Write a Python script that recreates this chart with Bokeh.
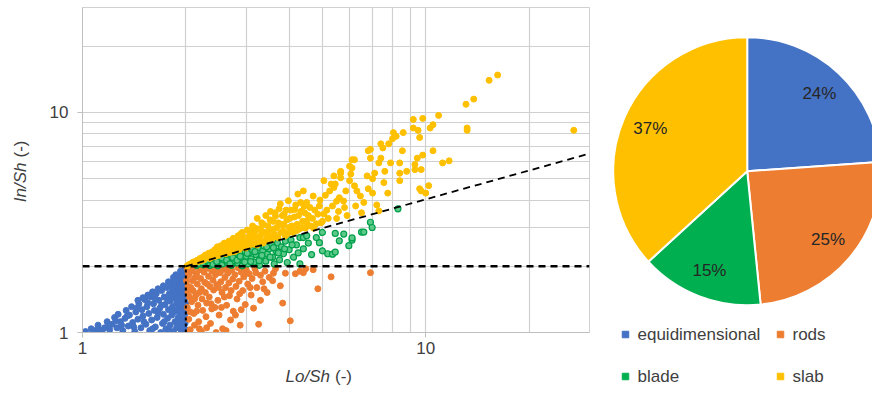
import math
from bokeh.plotting import figure
from bokeh.models import Range1d, FixedTicker, Span, ColumnDataSource
from bokeh.layouts import row, column
from bokeh.embed import file_html
from bokeh.resources import INLINE
from bokeh.core.properties import value

# ---------------- data ----------------
categories = ["equidimensional", "rods", "blade", "slab"]
colors = ["#4472C4", "#ED7D31", "#00B050", "#FFC000"]
pie_share = [23.9, 24.5, 14.8, 36.8]
pie_labels = ["24%", "25%", "15%", "37%"]

x_title = ["Lo/Sh", "(-)"]
y_title = ["In/Sh", "(-)"]
x_ticks = [1, 10]
x_tick_labels = ["1", "10"]
y_ticks = [1, 10]
y_tick_labels = ["1", "10"]
grid_values = [1, 2, 3, 4, 5, 6, 7, 8, 9, 10, 20, 30]
axis_range = [1, 30]

split_value = 2
boundary_lo = [2, 30]
boundary_in = [2, 6.5]

equi_pts = [(1.02,1.01),(1.06,1.04),(1.09,1.02),(1.11,1.08),(1.14,1.01),(1.16,1.05),(1.18,1.12),(1.2,1.03),
    (1.22,1.09),(1.24,1.17),(1.26,1.05),(1.27,1.21),(1.29,1.12),(1.31,1.02),(1.33,1.16),(1.34,1.26),(1.36,1.07),
    (1.37,1.2),(1.39,1.31),(1.4,1.11),(1.42,1.01),(1.43,1.24),(1.45,1.15),(1.46,1.35),(1.48,1.05),(1.49,1.27),
    (1.5,1.19),(1.52,1.41),(1.53,1.09),(1.54,1.31),(1.56,1.22),(1.57,1.02),(1.58,1.45),(1.59,1.14),(1.61,1.35),
    (1.62,1.26),(1.63,1.06),(1.64,1.5),(1.65,1.17),(1.67,1.4),(1.68,1.29),(1.69,1.0),(1.7,1.55),(1.71,1.1),
    (1.72,1.21),(1.73,1.45),(1.74,1.34),(1.75,1.04),(1.76,1.6),(1.77,1.16),(1.78,1.27),(1.79,1.5),(1.8,1.39),
    (1.8,1.08),(1.81,1.65),(1.82,1.2),(1.83,1.56),(1.83,1.31),(1.84,1.01),(1.85,1.44),(1.85,1.71),(1.86,1.12),
    (1.87,1.25),(1.87,1.61),(1.88,1.36),(1.88,1.05),(1.89,1.76),(1.89,1.49),(1.9,1.17),(1.9,1.67),(1.91,1.29),
    (1.91,1.4),(1.92,1.81),(1.92,1.09),(1.93,1.55),(1.93,1.22),(1.94,1.72),(1.94,1.33),(1.94,1.02),(1.95,1.86),
    (1.95,1.46),(1.95,1.14),(1.96,1.62),(1.96,1.26),(1.96,1.78),(1.97,1.38),(1.97,1.06),(1.97,1.9),(1.98,1.52),
    (1.98,1.19),(1.98,1.68),(1.98,1.31),(1.99,1.84),(1.99,1.43),(1.99,1.1),(1.99,1.95),(1.99,1.59),(2.0,1.24),
    (2.0,1.74),(2.0,1.35),(2.0,1.03),(2.0,1.89),(2.0,1.48),(2.0,1.15),(1.97,1.64),(1.93,1.9),(1.87,1.83),
    (1.84,1.78),(1.78,1.7),(1.72,1.63),(1.66,1.58),(1.6,1.53),(1.55,1.48),(1.5,1.44),(1.45,1.4),
    (1.12,1.03),(1.19,1.07),(1.25,1.13),(1.3,1.08),(1.35,1.19),(1.41,1.06),(1.44,1.29),(1.51,1.12),(1.55,1.36),
    (1.6,1.04),(1.63,1.42),(1.66,1.23),(1.7,1.33),(1.73,1.12),(1.77,1.41),(1.79,1.02),(1.82,1.48),(1.84,1.24),
    (1.86,1.66),(1.88,1.54),(1.9,1.09),(1.92,1.35),(1.93,1.62),(1.95,1.25),(1.96,1.7),(1.97,1.46),(1.98,1.82),
    (1.99,1.36),(2.0,1.6),(2.0,1.94)]

rods_pts = [(2.02,1.95),(2.04,1.82),(2.03,1.62),(2.05,1.45),(2.02,1.3),(2.04,1.15),(2.06,1.03),(2.08,1.9),
    (2.09,1.72),(2.1,1.55),(2.08,1.38),(2.11,1.22),(2.12,1.08),(2.14,1.98),(2.15,1.85),(2.16,1.66),(2.14,1.48),
    (2.17,1.33),(2.18,1.12),(2.2,1.93),(2.21,1.76),(2.22,1.58),(2.23,1.42),(2.24,1.26),(2.22,1.01),(2.26,1.88),
    (2.27,1.69),(2.28,1.52),(2.3,1.36),(2.29,1.18),(2.32,1.96),(2.33,1.8),(2.35,1.62),(2.34,1.45),(2.36,1.1),
    (2.38,1.91),(2.4,1.73),(2.41,1.56),(2.43,1.3),(2.44,1.83),(2.46,1.65),(2.47,1.97),(2.48,1.4),(2.5,1.2),
    (2.52,1.87),(2.53,1.7),(2.55,1.52),(2.56,1.04),(2.58,1.94),(2.6,1.78),(2.61,1.6),(2.63,1.33),(2.65,1.86),
    (2.67,1.68),(2.68,1.47),(2.7,1.14),(2.72,1.92),(2.74,1.75),(2.75,1.25),(2.78,1.83),(2.8,1.62),(2.82,1.42),
    (2.84,1.97),(2.86,1.71),(2.88,1.08),(2.9,1.88),(2.93,1.55),(2.95,1.79),(2.98,1.34),(3.0,1.93),(3.03,1.66),
    (3.06,1.85),(3.1,1.48),(3.12,1.76),(3.15,1.29),(3.18,1.95),(3.22,1.6),(3.26,1.09),(3.3,1.82),(3.35,1.7),
    (3.4,1.9),(3.45,1.52),(3.5,1.78),(3.58,1.72),(3.65,1.95),(3.77,1.63),(3.83,1.36),(3.9,1.86),(4.03,1.13),
    (4.17,1.85),(4.3,1.9),(4.4,1.87),(4.47,1.95),(4.7,1.93),(4.85,1.58),(5.3,1.79),(6.9,1.87),(2.05,1.0),
    (2.3,1.05),(2.45,1.0),(2.62,1.02),(2.15,1.25),(2.38,1.28),(2.01,1.72),(2.03,1.52),(2.03,1.88),(2.06,1.24),
    (2.07,1.6),(2.1,1.97),(2.12,1.42),(2.13,1.78),(2.19,1.52),(2.19,1.04),(2.25,1.97),(2.31,1.66),(2.37,1.35),
    (2.42,1.9),(2.49,1.6),(2.54,1.3),(2.59,1.45),(2.66,1.95),(2.71,1.55),(2.79,1.2),(2.87,1.5),(2.96,1.9),
    (3.08,1.6),(3.2,1.87),(3.38,1.58),(3.6,1.86),(3.3,1.4),(2.9,1.27)]

blade_pts = [(2.15,2.02),(2.2,2.05),(2.25,2.03),(2.28,2.08),(2.32,2.1),(2.35,2.02),(2.38,2.13),(2.42,2.06),
    (2.45,2.16),(2.48,2.01),(2.5,2.11),(2.53,2.19),(2.56,2.05),(2.58,2.14),(2.61,2.21),(2.64,2.08),(2.67,2.17),
    (2.7,2.27),(2.72,2.02),(2.75,2.12),(2.78,2.24),(2.8,2.3),(2.83,2.07),(2.86,2.18),(2.89,2.28),(2.92,2.01),
    (2.95,2.13),(2.98,2.33),(3.0,2.22),(3.03,2.05),(3.06,2.3),(3.1,2.16),(3.13,2.37),(3.16,2.09),(3.2,2.26),
    (3.24,2.42),(3.28,2.02),(3.31,2.18),(3.35,2.34),(3.38,2.47),(3.42,2.11),(3.46,2.27),(3.5,2.4),(3.55,2.52),
    (3.58,2.2),(3.62,2.05),(3.66,2.35),(3.7,2.55),(3.75,2.14),(3.8,2.45),(3.85,2.28),(3.9,2.6),(3.95,2.08),
    (4.0,2.38),(4.05,2.63),(4.12,2.2),(4.2,2.5),(4.3,2.05),(4.3,2.7),(4.4,2.4),(4.4,2.7),(4.5,2.75),(4.65,2.26),
    (4.9,2.56),(5.0,2.85),(5.0,2.35),(5.18,2.28),(5.35,2.27),(5.45,2.32),(5.45,2.82),(5.6,2.61),(5.77,2.8),
    (5.97,2.48),(6.1,2.63),(6.1,2.69),(6.5,2.86),(6.6,2.86),(6.9,3.17),(6.98,3.0),(8.3,3.65),
    (2.24,2.07),(2.4,2.04),(2.46,2.1),(2.55,2.18),(2.63,2.13),(2.69,2.05),(2.74,2.19),(2.82,2.13),(2.88,2.22),
    (2.97,2.09),(3.02,2.29),(3.09,2.1),(3.18,2.33),(3.27,2.12),(3.33,2.24),(3.44,2.45),(3.52,2.2),(3.6,2.43),
    (3.72,2.3),(3.88,2.4),(4.08,2.5),(4.25,2.3),(4.55,2.55),(4.8,2.7)]

slab_pts = [(2.02,2.01),(2.05,2.04),(2.08,2.06),(2.1,2.09),(2.13,2.1),(2.16,2.13),(2.18,2.1),(2.2,2.17),
    (2.22,2.12),(2.24,2.2),(2.26,2.14),(2.28,2.25),(2.31,2.2),(2.33,2.29),(2.35,2.17),(2.37,2.24),(2.39,2.33),
    (2.41,2.21),(2.43,2.38),(2.45,2.28),(2.47,2.45),(2.49,2.24),(2.51,2.35),(2.53,2.48),(2.55,2.3),(2.57,2.41),
    (2.59,2.55),(2.61,2.28),(2.63,2.47),(2.65,2.36),(2.67,2.6),(2.69,2.31),(2.71,2.52),(2.73,2.4),(2.75,2.68),
    (2.77,2.33),(2.8,2.58),(2.82,2.46),(2.84,2.75),(2.86,2.38),(2.88,2.64),(2.9,2.52),(2.92,2.85),(2.95,2.44),
    (2.97,2.7),(3.0,2.58),(3.02,2.92),(3.05,2.47),(3.08,2.78),(3.1,2.62),(3.13,3.05),(3.15,2.52),(3.18,2.88),
    (3.2,2.7),(3.23,3.3),(3.25,2.58),(3.28,2.96),(3.3,2.75),(3.33,3.15),(3.36,2.55),(3.39,2.85),(3.42,3.4),
    (3.45,2.68),(3.47,3.05),(3.5,2.93),(3.53,3.55),(3.56,2.65),(3.59,3.2),(3.62,2.8),(3.65,3.38),(3.68,3.0),
    (3.71,2.7),(3.74,3.65),(3.77,3.84),(3.8,3.1),(3.84,2.9),(3.87,3.45),(3.9,2.75),(3.94,3.25),(3.98,3.97),
    (4.0,3.0),(4.05,3.6),(4.1,2.85),(4.14,3.35),(4.18,3.8),(4.22,3.1),(4.24,4.26),(4.28,2.95),(4.33,3.55),
    (4.38,3.2),(4.4,4.4),(4.42,3.75),(4.46,2.98),(4.5,3.9),(4.5,3.21),(4.55,3.4),(4.62,3.05),(4.7,4.17),
    (4.75,3.6),(4.8,3.12),(4.9,3.76),(4.95,3.15),(5.05,3.46),(5.05,4.9),(5.1,4.2),(5.2,3.3),(5.3,4.73),
    (5.35,3.76),(5.4,4.56),(5.4,5.15),(5.45,4.73),(5.5,3.95),(5.57,3.55),(5.65,5.4),(5.65,5.05),(5.65,5.3),
    (5.76,3.96),(5.85,4.4),(5.9,3.4),(6.0,5.7),(6.05,5.25),(6.1,6.1),(6.1,5.6),(6.2,6.1),(6.2,4.64),
    (6.25,3.76),(6.45,4.17),(6.5,3.5),(6.75,5.15),(6.8,6.7),(6.8,4.5),(6.9,6.2),(6.9,6.8),(7.0,4.3),(7.1,5.3),
    (7.3,5.9),(7.3,3.57),(7.4,6.2),(7.4,7.2),(7.5,6.9),(7.55,4.8),(7.75,4.3),(7.8,7.2),(7.9,5.9),(8.0,7.6),
    (8.05,8.1),(8.2,7.8),(8.4,5.9),(8.4,5.3),(8.4,4.9),(8.55,6.7),(8.6,8.1),(8.8,5.4),(9.2,8.5),(9.2,9.3),
    (9.3,5.8),(9.3,5.5),(9.45,6.2),(9.5,8.3),(9.6,7.7),(9.6,4.5),(9.7,5.5),(9.7,4.4),(9.8,9.4),(9.8,6.4),
    (10.0,4.3),(10.2,4.65),(10.3,8.5),(10.5,8.8),(10.5,6.7),(10.9,9.7),(11.2,5.9),(11.7,6.03),(13.1,10.9),
    (13.2,8.5),(13.2,8.3),(13.8,11.5),(15.3,14.0),(16.2,14.8),(27.0,8.3),
    (2.36,2.3),(2.44,2.22),(2.52,2.27),(2.58,2.36),(2.62,2.52),(2.66,2.42),(2.72,2.62),(2.76,2.48),(2.81,2.36),
    (2.85,2.56),(2.89,2.8),(2.93,2.62),(2.99,2.42),(3.04,2.66),(3.07,2.88),(3.11,2.55),(3.16,2.75),(3.19,2.98),
    (3.22,2.5),(3.27,2.65),(3.32,2.9),(3.37,3.1),(3.41,2.62),(3.46,2.8),(3.52,3.25),(3.55,2.7),(3.6,2.95),
    (3.64,3.5),(3.67,2.72),(3.72,3.15),(3.78,2.85),(3.82,3.4),(3.86,3.1),(3.92,3.6),(3.96,2.82),(4.02,3.3),
    (4.08,3.05),(4.15,3.62),(4.2,2.9),(4.26,3.4),(4.32,3.9),(4.36,3.0),(4.44,3.5),(4.52,3.1),(4.6,3.7),
    (4.68,3.3),(4.72,2.98),(4.85,3.45),(4.92,4.0),(5.0,3.2),(5.15,3.6),(5.25,4.4),(5.5,3.3),(5.6,4.1),
    (5.8,3.7),(6.0,4.9),(6.3,4.4),(6.6,3.9),(7.0,5.0),(7.2,3.8),(7.6,5.4)]

# ---------------- styling / layout ----------------
FONT = "Liberation Sans"
TXT = "#404040"
GRID = "#d0d0d0"
W, H = 872, 393
YLAB_W = 40          # strip holding the vertical axis title
SCATTER_W = 556      # scatter figure width
XLAB_H = 30          # strip holding the horizontal axis title
PIE_W = W - YLAB_W - SCATTER_W
GAP = 5              # space between italic symbol and unit


def blank_fig(width, height):
    f = figure(width=width, height=height, x_range=Range1d(0, width), y_range=Range1d(0, height),
               x_axis_location=None, y_axis_location=None,
               output_backend="svg", toolbar_location=None,
               min_border_left=0, min_border_right=0, min_border_top=0, min_border_bottom=0)
    f.frame_align = False
    f.grid.visible = False
    f.outline_line_color = None
    return f


# ---------------- scatter ----------------
p = figure(width=SCATTER_W, height=H - XLAB_H, x_axis_type="log", y_axis_type="log",
           x_range=Range1d(*axis_range), y_range=Range1d(*axis_range),
           output_backend="svg", toolbar_location=None,
           min_border_left=42, min_border_right=7, min_border_top=7, min_border_bottom=31)
p.frame_align = False
p.outline_line_color = GRID

for ax, ticks, labels in ((p.xaxis, x_ticks, x_tick_labels), (p.yaxis, y_ticks, y_tick_labels)):
    ax.ticker = FixedTicker(ticks=ticks, minor_ticks=[])
    ax.major_label_overrides = {t: l for t, l in zip(ticks, labels)}
    ax.axis_line_color = "#bfbfbf"
    ax.major_tick_line_color = "#bfbfbf"
    ax.major_tick_out = 5
    ax.major_tick_in = 0
    ax.minor_tick_line_color = None
    ax.major_label_text_font = FONT
    ax.major_label_text_font_size = "17px"
    ax.major_label_text_color = TXT
p.xaxis.major_label_standoff = 4
p.yaxis.major_label_standoff = 9

for g in (p.xgrid, p.ygrid):
    g.ticker = FixedTicker(ticks=grid_values)
    g.grid_line_color = GRID
    g.grid_line_width = 1.2

series = [equi_pts, rods_pts, blade_pts, slab_pts]
for name, pts, col in zip(categories, series, colors):
    xs, ys = zip(*pts)
    src = ColumnDataSource(dict(lo=list(xs), ins=list(ys)))
    if name == "blade":
        p.scatter("lo", "ins", source=src, size=6, fill_color="#5cc98a", line_color="#00a04a", line_width=1.2)
    else:
        p.scatter("lo", "ins", source=src, size=6, fill_color=col, line_color=col)

p.add_layout(Span(location=split_value, dimension="width", line_color="black",
                  line_width=2.4, line_dash="7 5"))
p.segment(x0=[split_value], y0=[axis_range[0]], x1=[split_value], y1=[split_value],
          line_color="black", line_width=2, line_dash="3 3")
p.line(boundary_lo, boundary_in, line_color="black", line_width=1.8, line_dash="7 5")

# ---------------- axis titles (italic symbol + upright unit) ----------------
ylab = blank_fig(YLAB_W, H)
ylab.text(x=[20], y=[231], text=[y_title[0]], angle=math.pi / 2, text_font=value(FONT),
          text_font_style="italic", text_font_size="17px", text_color=TXT,
          text_align="right", text_baseline="middle")
ylab.text(x=[20], y=[231], text=[y_title[1]], angle=math.pi / 2, y_offset=-GAP, text_font=value(FONT),
          text_font_style="normal", text_font_size="17px", text_color=TXT,
          text_align="left", text_baseline="middle")

xlab = blank_fig(SCATTER_W, XLAB_H)
xlab.text(x=[289.5], y=[17], text=[x_title[0]], text_font=value(FONT),
          text_font_style="italic", text_font_size="17px", text_color=TXT,
          text_align="right", text_baseline="middle")
xlab.text(x=[289.5], y=[17], text=[x_title[1]], x_offset=GAP, text_font=value(FONT),
          text_font_style="normal", text_font_size="17px", text_color=TXT,
          text_align="left", text_baseline="middle")

# ---------------- pie ----------------
q = blank_fig(PIE_W, H)

cx, cy, R = 150.7, 222.3, 134
total = sum(pie_share)
starts, ends, lx, ly = [], [], [], []
c = 0.0
for v in pie_share:
    c0, c1 = c / total, (c + v) / total
    starts.append(math.pi / 2 - 2 * math.pi * c1)
    ends.append(math.pi / 2 - 2 * math.pi * c0)
    mid = 2 * math.pi * (c0 + c1) / 2
    lx.append(cx + 0.79 * R * math.sin(mid))
    ly.append(cy + 0.79 * R * math.cos(mid))
    c += v

psrc = ColumnDataSource(dict(start=starts, end=ends, color=colors, lx=lx, ly=ly, lab=pie_labels))
q.wedge(x=cx, y=cy, radius=R, radius_units="screen", start_angle="start", end_angle="end",
        fill_color="color", line_color="white", line_width=2, source=psrc)
q.text(x="lx", y="ly", text="lab", source=psrc, text_font=value(FONT), text_font_size="17px",
       text_color="#262626", text_align="center", text_baseline="middle")

# legend (2 x 2)
leg_x = [29, 184, 29, 184]
leg_y = [59, 59, 17, 17]
lsrc = ColumnDataSource(dict(x=leg_x, y=leg_y, tx=[v + 12 for v in leg_x], color=colors, lab=categories))
q.scatter("x", "y", source=lsrc, marker="square", size=6.5, fill_color="color", line_color="color")
q.text(x="tx", y="y", text="lab", source=lsrc, text_font=value(FONT), text_font_size="17px",
       text_color=TXT, text_align="left", text_baseline="middle")

layout = row(ylab, column(p, xlab), q)
open("out.html", "w").write(file_html(layout, INLINE))
